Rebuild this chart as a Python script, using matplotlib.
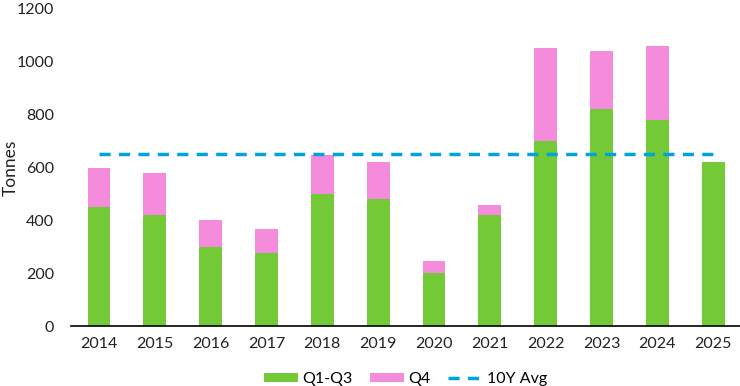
import matplotlib.pyplot as plt
import numpy as np

years = ["2014", "2015", "2016", "2017", "2018", "2019", "2020", "2021", "2022", "2023", "2024", "2025"]
q1_q3 = [450, 420, 300, 278, 500, 480, 200, 420, 700, 820, 780, 620]
q4 = [150, 160, 100, 90, 148, 140, 48, 40, 352, 220, 280, 0]
avg_10y = 650

plt.rcParams['font.family'] = ['Lato', 'DejaVu Sans']

fig = plt.figure(figsize=(7.4, 3.86), dpi=100)
ax = fig.add_axes([0.096, 0.155, 0.904, 0.822])

x = np.arange(len(years))
b1 = ax.bar(x, q1_q3, width=0.41, color="#73C936", label="Q1-Q3")
b2 = ax.bar(x, q4, width=0.41, bottom=q1_q3, color="#F48CDB", label="Q4")
ln, = ax.plot([x[0], x[-1]], [avg_10y, avg_10y], color="#00A3E0", lw=2.5,
              dashes=(3.2, 2.4), label="10Y Avg")

ax.set_xlim(-0.5, 11.48)
ax.set_ylim(0, 1200)
ax.set_yticks(range(0, 1201, 200))
ax.set_xticks(x)
ax.set_xticklabels(years)
ax.tick_params(axis='both', length=0, labelsize=11.5, colors="#222222", pad=8)
ax.tick_params(axis='y', pad=12)
for s in ["top", "right", "left"]:
    ax.spines[s].set_visible(False)
ax.spines["bottom"].set_color("black")
ax.spines["bottom"].set_linewidth(1.2)
ax.set_ylabel("Tonnes", fontsize=12.5, color="#222222")
ax.yaxis.set_label_coords(-0.078, 0.5)

ax.legend([b1, b2, ln], ["Q1-Q3", "Q4", "10Y Avg"], loc="upper center",
          bbox_to_anchor=(0.5, -0.1), ncol=3, frameon=False,
          fontsize=11.5, handlelength=2.1, handleheight=0.45, columnspacing=1.1,
          handletextpad=0.3)

fig.savefig("out.png", dpi=100)
